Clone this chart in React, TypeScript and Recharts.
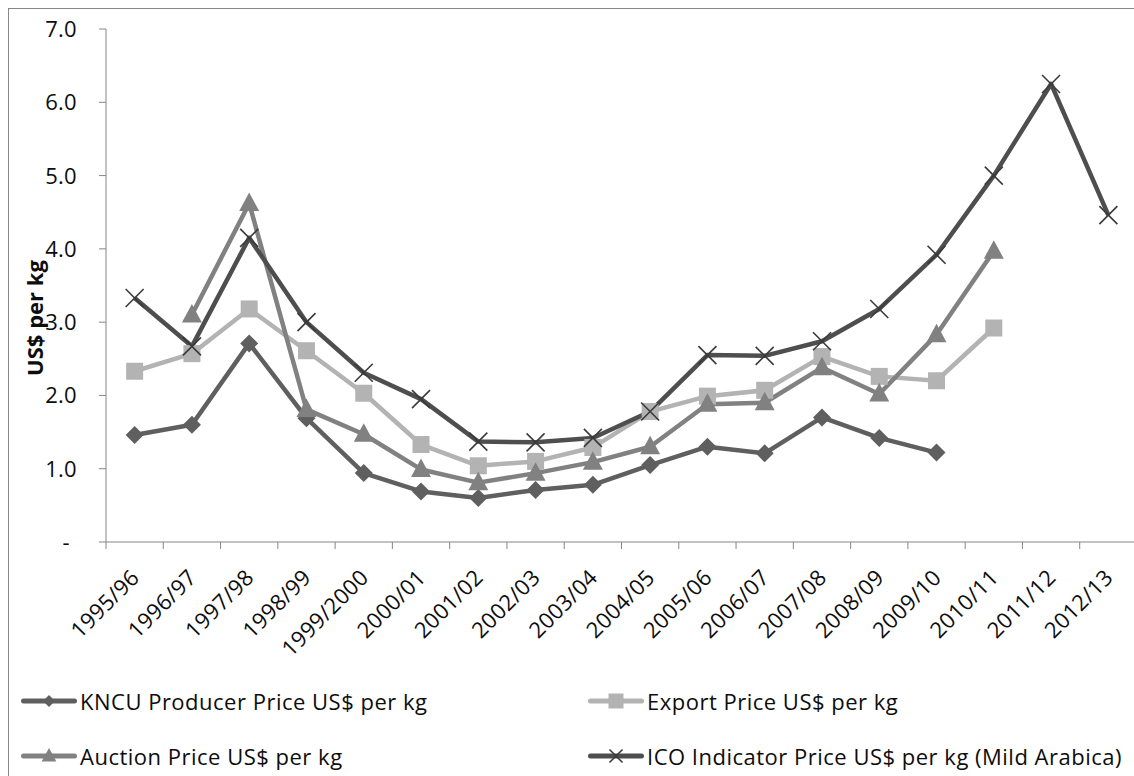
import React from "react";
import { LineChart, Line, XAxis, YAxis, Label } from "recharts";

const CATEGORIES = [
  "1995/96", "1996/97", "1997/98", "1998/99", "1999/2000", "2000/01",
  "2001/02", "2002/03", "2003/04", "2004/05", "2005/06", "2006/07",
  "2007/08", "2008/09", "2009/10", "2010/11", "2011/12", "2012/13",
];

const KNCU_PRICE = [1.46, 1.6, 2.71, 1.69, 0.94, 0.69, 0.6, 0.71, 0.78, 1.05, 1.3, 1.21, 1.7, 1.42, 1.22, null, null, null];
const EXPORT_PRICE = [2.33, 2.57, 3.18, 2.61, 2.03, 1.33, 1.04, 1.1, 1.29, 1.78, 1.99, 2.07, 2.53, 2.26, 2.2, 2.92, null, null];
const AUCTION_PRICE = [null, 3.1, 4.62, 1.81, 1.47, 0.99, 0.81, 0.94, 1.09, 1.3, 1.88, 1.9, 2.38, 2.02, 2.83, 3.97, null, null];
const ICO_PRICE = [3.33, 2.67, 4.15, 3.0, 2.31, 1.95, 1.37, 1.36, 1.42, 1.78, 2.55, 2.54, 2.74, 3.18, 3.92, 5.0, 6.25, 4.46];

const Y_TICKS = [0, 1, 2, 3, 4, 5, 6, 7];

const CHART_W = 1130;
const CHART_H = 760;
const MARGIN = { top: 20, right: 2, left: 0, bottom: 167 };
const Y_AXIS_W = 97;
const X_AXIS_H = 60;
const PLOT_W = CHART_W - MARGIN.left - MARGIN.right - Y_AXIS_W;
const HALF_BAND = PLOT_W / CATEGORIES.length / 2;

const AXIS = "#868686";
const TEXT = "#0d0d0d";
const FONT = "'Open Sans', sans-serif";
const FS = 22;

type Marker = "diamond" | "square" | "triangle" | "cross";

const SERIES: { key: string; name: string; color: string; marker: Marker }[] = [
  { key: "kncu", name: "KNCU Producer Price US$ per kg", color: "#5f5f5f", marker: "diamond" },
  { key: "export", name: "Export Price US$ per kg", color: "#b3b3b3", marker: "square" },
  { key: "auction", name: "Auction Price US$ per kg", color: "#818181", marker: "triangle" },
  { key: "ico", name: "ICO Indicator Price US$ per kg (Mild Arabica)", color: "#4e4e4e", marker: "cross" },
];

const data = CATEGORIES.map((cat, i) => ({
  x: i + 0.5,
  cat,
  kncu: KNCU_PRICE[i],
  export: EXPORT_PRICE[i],
  auction: AUCTION_PRICE[i],
  ico: ICO_PRICE[i],
}));

const X_TICKS = CATEGORIES.map((_, i) => i + 0.5);

function MarkerShape({ type, cx, cy, color, s }: { type: Marker; cx: number; cy: number; color: string; s: number }) {
  if (type === "diamond") {
    return <path d={`M${cx},${cy - s}L${cx + s},${cy}L${cx},${cy + s}L${cx - s},${cy}Z`} fill={color} />;
  }
  if (type === "square") {
    return <rect x={cx - s} y={cy - s} width={s * 2} height={s * 2} fill={color} />;
  }
  if (type === "triangle") {
    return (
      <path
        d={`M${cx},${cy - s * 1.15}L${cx + s * 1.05},${cy + s * 0.8}L${cx - s * 1.05},${cy + s * 0.8}Z`}
        fill={color}
      />
    );
  }
  return (
    <g stroke="#3a3a3a" strokeWidth={1.6}>
      <line x1={cx - s} y1={cy - s} x2={cx + s} y2={cy + s} />
      <line x1={cx - s} y1={cy + s} x2={cx + s} y2={cy - s} />
    </g>
  );
}

const DOT_SIZE: Record<Marker, number> = { diamond: 9, square: 8.5, triangle: 9.5, cross: 9 };
const LEGEND_SIZE: Record<Marker, number> = { diamond: 6, square: 7.5, triangle: 7, cross: 6.5 };

function makeDot(marker: Marker, color: string) {
  return (props: any) => {
    const { cx, cy, index } = props;
    if (cx == null || cy == null || props.value == null) return <g key={`d-${index}`} />;
    return (
      <g key={`d-${index}`}>
        <MarkerShape type={marker} cx={cx} cy={cy} color={color} s={DOT_SIZE[marker]} />
      </g>
    );
  };
}

function XTick(props: any) {
  const { x, y, payload } = props;
  const i = Math.floor(payload.value);
  const last = i === CATEGORIES.length - 1;
  const ax = x + 6;
  const ay = y + 37;
  return (
    <g>
      <line x1={x - HALF_BAND} x2={x - HALF_BAND} y1={y} y2={y + 7} stroke={AXIS} />
      {last && <line x1={x + HALF_BAND} x2={x + HALF_BAND} y1={y} y2={y + 7} stroke={AXIS} />}
      <text
        x={ax}
        y={ay}
        textAnchor="end"
        transform={`rotate(-45, ${ax}, ${ay})`}
        fontSize={FS}
        fontFamily={FONT}
        letterSpacing={0.3}
        fill={TEXT}
      >
        {CATEGORIES[i]}
      </text>
    </g>
  );
}

function YTick(props: any) {
  const { x, y, payload } = props;
  if (payload.value === 0) {
    return (
      <text x={x - 11} y={y} dy={8} textAnchor="middle" fontSize={FS} fontFamily={FONT} fill={TEXT}>
        -
      </text>
    );
  }
  return (
    <text x={x} y={y} dy={8} textAnchor="end" fontSize={FS} fontFamily={FONT} letterSpacing={0.3} fill={TEXT}>
      {payload.value.toFixed(1)}
    </text>
  );
}

function YTitle(props: any) {
  const { viewBox } = props;
  const tx = viewBox.x + 34;
  const ty = 309;
  return (
    <text
      x={tx}
      y={ty}
      transform={`rotate(-90, ${tx}, ${ty})`}
      textAnchor="middle"
      fontSize={FS}
      fontWeight="bold"
      fontFamily={FONT}
      fill={TEXT}
    >
      US$ per kg
    </text>
  );
}

function LegendItem({ item, left, top }: { item: (typeof SERIES)[number]; left: number; top: number }) {
  return (
    <div style={{ position: "absolute", left, top, display: "flex", alignItems: "center", height: 24 }}>
      <svg width={56} height={24} style={{ display: "block" }}>
        <line x1={2.5} x2={53.5} y1={12} y2={12} stroke={item.color} strokeWidth={5} strokeLinecap="round" />
        <MarkerShape type={item.marker} cx={28} cy={12} color={item.color} s={LEGEND_SIZE[item.marker]} />
      </svg>
      <span
        style={{
          marginLeft: 3,
          fontFamily: FONT,
          fontSize: FS,
          letterSpacing: 0.5,
          color: TEXT,
          whiteSpace: "nowrap",
          lineHeight: "24px",
        }}
      >
        {item.name}
      </span>
    </div>
  );
}

export default function App() {
  return (
    <>
      <style>{"body{margin:0;}"}</style>
      <div
        style={{
          position: "relative",
          marginLeft: 8,
          marginTop: 8,
          width: 1126,
          height: 768,
          overflow: "hidden",
          borderLeft: `1px solid ${AXIS}`,
          borderTop: `1px solid ${AXIS}`,
          boxSizing: "border-box",
          background: "#fff",
        }}
      >
        <LineChart width={CHART_W} height={CHART_H} data={data} margin={MARGIN}>
          <XAxis
            dataKey="x"
            type="number"
            domain={[0, CATEGORIES.length]}
            ticks={X_TICKS}
            interval={0}
            height={X_AXIS_H}
            tick={<XTick />}
            tickLine={false}
            tickSize={0}
            tickMargin={0}
            axisLine={{ stroke: AXIS }}
            allowDecimals
          />
          <YAxis
            type="number"
            domain={[0, 7]}
            ticks={Y_TICKS}
            interval={0}
            width={Y_AXIS_W}
            tick={<YTick />}
            tickSize={7}
            tickMargin={22}
            tickLine={{ stroke: AXIS }}
            axisLine={{ stroke: AXIS }}
          >
            <Label content={<YTitle />} />
          </YAxis>
          {SERIES.map((s) => (
            <Line
              key={s.key}
              type="linear"
              dataKey={s.key}
              name={s.name}
              stroke={s.color}
              strokeWidth={4.5}
              strokeLinejoin="round"
              dot={makeDot(s.marker, s.color)}
              activeDot={false}
              isAnimationActive={false}
            />
          ))}
        </LineChart>
        <LegendItem item={SERIES[0]} left={12} top={680} />
        <LegendItem item={SERIES[1]} left={579} top={680} />
        <LegendItem item={SERIES[2]} left={12} top={735} />
        <LegendItem item={SERIES[3]} left={579} top={735} />
      </div>
    </>
  );
}
